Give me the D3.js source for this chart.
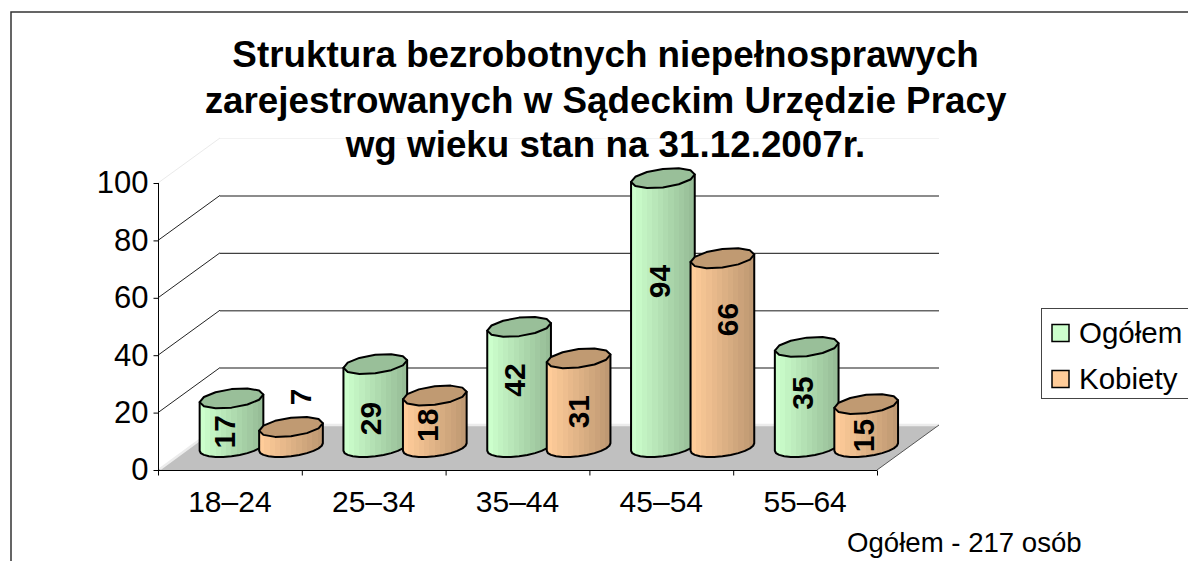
<!DOCTYPE html>
<html><head><meta charset="utf-8">
<script src="https://cdn.jsdelivr.net/npm/d3@7/dist/d3.min.js"></script>
<style>html,body{margin:0;padding:0;background:#fff}svg{display:block}text{font-family:"Liberation Sans",Arial,sans-serif;fill:#000}</style>
</head><body><svg id="c" width="1188" height="561"></svg>
<script>
const categories = ["18–24","25–34","35–44","45–54","55–64"];
const ogolem = [17,29,42,94,35];
const kobiety = [7,18,31,66,15];
const yTicks = [0,20,40,60,80,100];
const seriesNames = ["Ogółem","Kobiety"];
const titleLines = ["Struktura bezrobotnych niepełnosprawych","zarejestrowanych w Sądeckim Urzędzie Pracy","wg wieku stan na 31.12.2007r."];
const note = "Ogółem - 217 osób";

const W=1188,H=561, svg=d3.select("#c");
const x0=158,x1=877,y0=470,y100=183,dx=62,dy=-45;
const x=d3.scaleBand().domain(categories).range([x0,x1]);
const y=d3.scaleLinear().domain([0,100]).range([y0,y100]);
const baseY=447, barH=d3.scaleLinear().domain([0,100]).range([0,286]);
const offG=73.5, offO=133;
const A=29.5,B=12,C=10;
const colors=[{light:"#CCFFCC",dark:"#97BD97",top:"#99BF99"},{light:"#FFCC99",dark:"#BF9973",top:"#C09A72"}];
// per-label pixel nudges from the bar centre
const nudge=[[[-7,9],[-5,13],[-5,-7],[-3,-31],[-4,-4]],[[9,-40],[-7,4],[0,9],[5,-33],[-3,10]]];

svg.append("rect").attr("x",11).attr("y",12).attr("width",1300).attr("height",700).attr("fill","#fff").attr("stroke","#333").attr("stroke-width",1.5);

const defs=svg.append("defs");
colors.forEach((c,i)=>{
  const g=defs.append("linearGradient").attr("id","g"+i);
  const n=12, mix=d3.interpolateRgb(c.light,c.dark);
  d3.range(n).forEach(k=>{
    g.append("stop").attr("offset",k/n).attr("stop-color",mix(k/(n-1)));
    g.append("stop").attr("offset",(k+1)/n).attr("stop-color",mix(k/(n-1)));
  });
});

// floor
svg.append("path").attr("d",`M${x0},${y0}L${x1},${y0}L${x1+dx},${y0+dy}L${x0+dx},${y0+dy}Z`).attr("fill","#C0C0C0");
svg.append("path").attr("d",`M${x0+2},${y0-1}L${x0+dx},${y0+dy}H${x1+dx}`).attr("fill","none").attr("stroke","#ececec").attr("stroke-width",2.5);
svg.append("line").attr("x1",x1).attr("y1",y0).attr("x2",x1+dx).attr("y2",y0+dy).attr("stroke","#555");
// walls' grid
yTicks.slice(1).forEach(t=>{
  const c=t===100?"#f2f2f2":(t===60?"#111":"#666");
  svg.append("line").attr("x1",x0+dx).attr("x2",x1+dx).attr("y1",y(t)+dy+.5).attr("y2",y(t)+dy+.5).attr("stroke",c).attr("stroke-width",t===60||t===100?1:1.5);
  svg.append("line").attr("x1",x0).attr("x2",x0+dx).attr("y1",y(t)).attr("y2",y(t)+dy).attr("stroke",t===100?"#eaeaea":"#222");
});
// axes
const ya=svg.append("g").attr("transform",`translate(${x0+.5},0)`).call(d3.axisLeft(y).tickValues(yTicks).tickSize(5).tickPadding(5));
ya.select(".domain").attr("stroke","#000").attr("d",`M0,${y100}V${y0}`);
ya.selectAll("text").attr("font-size",31).attr("font-family",'"Liberation Sans"').attr("fill","#000");
const xa=svg.append("g").attr("transform",`translate(0,${y0+.5})`).call(d3.axisBottom(x).tickSize(0).tickPadding(20));
xa.select(".domain").attr("stroke","#000").attr("d",`M${x0},0H${x1}`);
xa.selectAll("text").attr("font-size",30).attr("font-family",'"Liberation Sans"').attr("fill","#000");
xa.selectAll(".xt").data(d3.range(categories.length+1)).enter().append("line").attr("class","xt")
  .attr("x1",i=>x0+i*x.step()+.5).attr("x2",i=>x0+i*x.step()+.5).attr("y1",0).attr("y2",5).attr("stroke","#000");

// cylinders
function pt(cx,cy,t){return [cx+A*Math.cos(t)+B*Math.sin(t), cy-C*Math.sin(t)];}
const tR=Math.atan2(B,A);           // right-most point
const line=d3.line().curve(d3.curveLinear);
function bar(cx,v,s){
  const top=baseY-barH(v);
  const body=[pt(cx,top,tR)].concat(d3.range(0,181,15).map(a=>pt(cx,baseY,tR-a*Math.PI/180))).concat([pt(cx,top,tR+Math.PI)]);
  const ell=d3.range(0,360,30).map(a=>pt(cx,top,tR+a*Math.PI/180));
  svg.append("path").attr("d",line(body)+"Z").attr("fill",`url(#g${s})`).attr("stroke","#000").attr("stroke-width",2).attr("stroke-linejoin","round");
  svg.append("path").attr("d",line(ell)+"Z").attr("fill",colors[s].top).attr("stroke","#000").attr("stroke-width",2).attr("stroke-linejoin","round");
}
const labels=[];
categories.forEach((c,i)=>{
  [ogolem[i],kobiety[i]].forEach((v,s)=>{
    const cx=x(c)+(s?offO:offG);
    bar(cx,v,s);
    const n=nudge[s][i];
    labels.push({v,x:cx+n[0],y:baseY-barH(v)/2+n[1]});
  });
});
labels.forEach(l=>{
  svg.append("text").attr("transform",`translate(${l.x},${l.y}) rotate(-90)`).attr("text-anchor","middle").attr("dy","0.35em")
    .attr("font-size",30).attr("font-weight","bold").text(l.v);
});
// title
const ty=[67,113,157];
titleLines.forEach((t,i)=>svg.append("text").attr("x",605.5).attr("y",ty[i]).attr("text-anchor","middle").attr("font-size",36.8).attr("font-weight","bold").text(t));
// legend
svg.append("rect").attr("x",1041.5).attr("y",308.5).attr("width",200).attr("height",90).attr("fill","#fff").attr("stroke","#444");
seriesNames.forEach((n,i)=>{
  const yy=333+i*46;
  svg.append("rect").attr("x",1052).attr("y",yy-8.5).attr("width",17).attr("height",17).attr("fill",colors[i].light).attr("stroke","#000").attr("stroke-width",1.5);
  svg.append("text").attr("x",1079).attr("y",yy+9.5).attr("font-size",29.5).text(n);
});
svg.append("text").attr("x",847).attr("y",552).attr("font-size",27.6).text(note);
</script></body></html>
